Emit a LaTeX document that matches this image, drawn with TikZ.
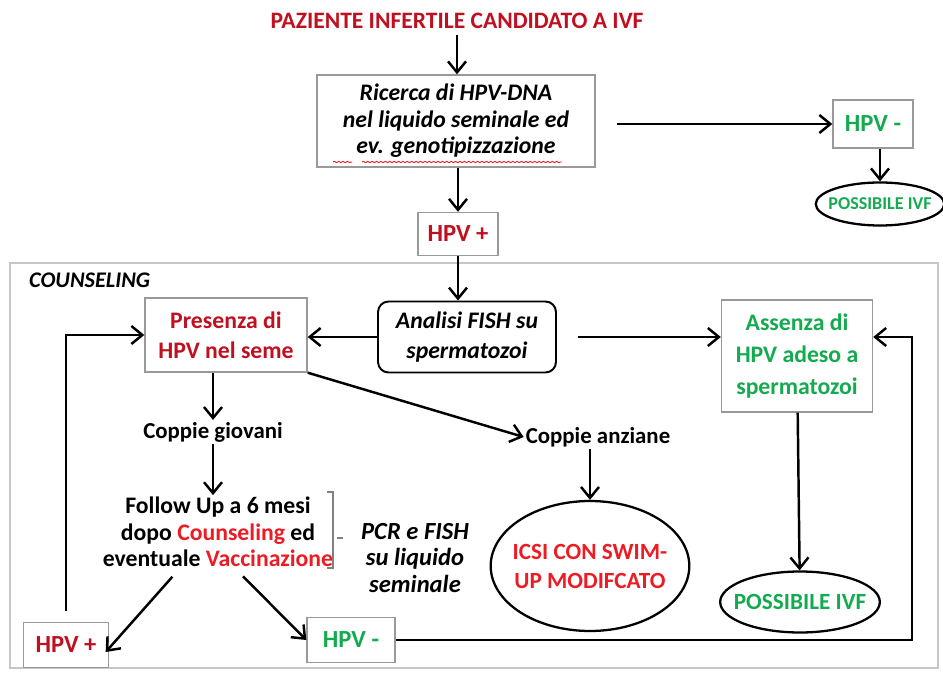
\documentclass[tikz,border=0pt]{standalone}
\usepackage{fontspec}
\setmainfont{Carlito}
\usepackage{tikz}
\usetikzlibrary{shapes.geometric, arrows.meta, positioning}
\usetikzlibrary{decorations.pathmorphing}
\definecolor{rossoscuro}{RGB}{192,16,32}
\definecolor{rosso}{RGB}{236,28,36}
\definecolor{verde}{RGB}{20,170,80}
\tikzstyle{arrow} = [draw, -{Straight Barb[length=2.2mm,width=3.6mm]}, line width=1.4pt]
\tikzstyle{casella} = [draw=gray!80, line width=0.8pt, fill=white, align=center, inner sep=2pt, font=\fontsize{14}{15}\selectfont\bfseries]
\tikzstyle{ovale} = [draw=black, ellipse, line width=1.3pt, align=center, inner ysep=0pt]
\tikzstyle{testo} = [align=center, inner sep=1pt, font=\fontsize{13}{15}\selectfont\bfseries]

\begin{document}
\begin{tikzpicture}[x=0.02cm, y=-0.02cm]
		\useasboundingbox (0,0) rectangle (943,675);
		% Riquadro del counseling
		\draw[gray!45, line width=1pt] (10,263) rectangle (938,668);
		\node[anchor=west, font=\fontsize{12.7}{14}\selectfont\bfseries\itshape] (counseling) at (23,280) {COUNSELING};
		
		% Parte alta
		\node[text=rossoscuro, font=\fontsize{13.4}{15}\selectfont\bfseries] (titolo) at (457,21) {PAZIENTE INFERTILE CANDIDATO A IVF};
		\node[casella, minimum width=5.56cm, minimum height=1.84cm, font=\fontsize{13.5}{15}\selectfont\bfseries\itshape] (ricerca) at (456,121) {Ricerca di HPV-DNA\\nel liquido seminale ed\\ev. genotipizzazione};
		\draw[rosso, line width=0.5pt, decorate, decoration={snake, amplitude=0.4pt, segment length=2.5pt}] (333,162) -- (352,162);
		\draw[rosso, line width=0.5pt, decorate, decoration={snake, amplitude=0.4pt, segment length=2.5pt}] (362,162) -- (562,162);
		\node[casella, text=verde, minimum width=1.6cm, minimum height=0.96cm] (hpvneg1) at (873,124) {HPV -};
		\node[ovale, text=verde, inner xsep=-3.5pt, minimum height=0.86cm, font=\fontsize{10.3}{12}\selectfont\bfseries] (ivf1) at (880,204) {POSSIBILE IVF};
		\node[casella, text=rossoscuro, minimum width=1.6cm, minimum height=0.86cm] (hpvpos1) at (458,234) {HPV +};
		
		% Analisi FISH
		\node[draw, rounded corners=6pt, line width=1.1pt, align=center, minimum width=3.56cm, minimum height=1.42cm, inner sep=1pt, font=\fontsize{13.5}{17}\selectfont\bfseries\itshape] (analisi) at (467,337) {Analisi FISH su\\spermatozoi};
		\node[casella, text=rossoscuro, minimum width=3.24cm, minimum height=1.48cm, font=\fontsize{13.5}{17}\selectfont\bfseries] (presenza) at (226,335) {Presenza di\\HPV nel seme};
		\node[casella, text=verde, minimum width=3.02cm, minimum height=2.24cm, font=\fontsize{13.5}{18}\selectfont\bfseries] (assenza) at (797,356) {Assenza di\\HPV adeso a\\spermatozoi};
		
		% Coppie
		\node[testo] (giovani) at (213,432) {Coppie giovani};
		\node[testo] (anziane) at (598,437) {Coppie anziane};
		\node[testo, font=\fontsize{13.5}{15}\selectfont\bfseries] (followup) at (218,532) {Follow Up a 6 mesi\\dopo \textcolor{rosso}{Counseling} ed\\eventuale \textcolor{rosso}{Vaccinazione}};
		\draw[gray, line width=0.7pt] (327,492) -- (333,492) -- (333,568) -- (327,568);
		\draw[gray, line width=0.7pt] (337,538) -- (343,538);
		\node[testo, font=\fontsize{14}{15}\selectfont\bfseries\itshape] (pcr) at (415,558) {PCR e FISH\\su liquido\\seminale};
		\node[ovale, text=rosso, inner xsep=-4pt, minimum height=2.6cm, font=\fontsize{13.2}{16.5}\selectfont\bfseries] (icsi) at (590,566) {ICSI CON SWIM-\\UP MODIFCATO};
		\node[ovale, text=verde, inner xsep=-5.5pt, minimum height=1.22cm, font=\fontsize{13.2}{14}\selectfont\bfseries] (ivf2) at (800,602) {POSSIBILE IVF};
		\node[casella, text=rossoscuro, minimum width=1.7cm, minimum height=0.9cm] (hpvpos2) at (66,645) {HPV +};
		\node[casella, text=verde, minimum width=1.76cm, minimum height=0.9cm] (hpvneg2) at (351,640) {HPV -};
		\coordinate (ritorno) at (912,337);
		
		% Frecce
		\draw[arrow] (titolo) -- (titolo |- ricerca.north);
		\draw[arrow, shorten <=12pt] (ricerca.east |- hpvneg1) -- (hpvneg1);
		\draw[arrow] (hpvneg1.south -| ivf1) -- (ivf1);
		\draw[arrow] (ricerca.south -| hpvpos1) -- (hpvpos1);
		\draw[arrow] (hpvpos1) -- (hpvpos1 |- analisi.north);
		\draw[arrow] (analisi.west) -- (presenza.east |- analisi.west);
		\draw[arrow, shorten <=12pt] (analisi.east) -- (assenza.west |- analisi.east);
		\draw[arrow] (presenza.south -| giovani) -- (giovani);
		\draw[arrow] (presenza.south east) -- (anziane.west);
		\draw[arrow] (giovani) -- (giovani |- followup.north);
		\draw[arrow] (anziane.south -| icsi) -- (icsi);
		\draw[arrow] (assenza) -- (ivf2);
		\draw[arrow, shorten <=6pt] ([xshift=-22pt]followup.south) -- ([xshift=-2pt,yshift=-4pt]hpvpos2.east);
		\draw[arrow, shorten <=6pt] ([xshift=10pt]followup.south) -- (hpvneg2.west);
		\draw[arrow, shorten <=6pt] (hpvpos2.north) |- (presenza.west);
		\draw[arrow] (hpvneg2.east) -| (ritorno) -- (assenza.east |- ritorno);
	\end{tikzpicture}
\end{document}
